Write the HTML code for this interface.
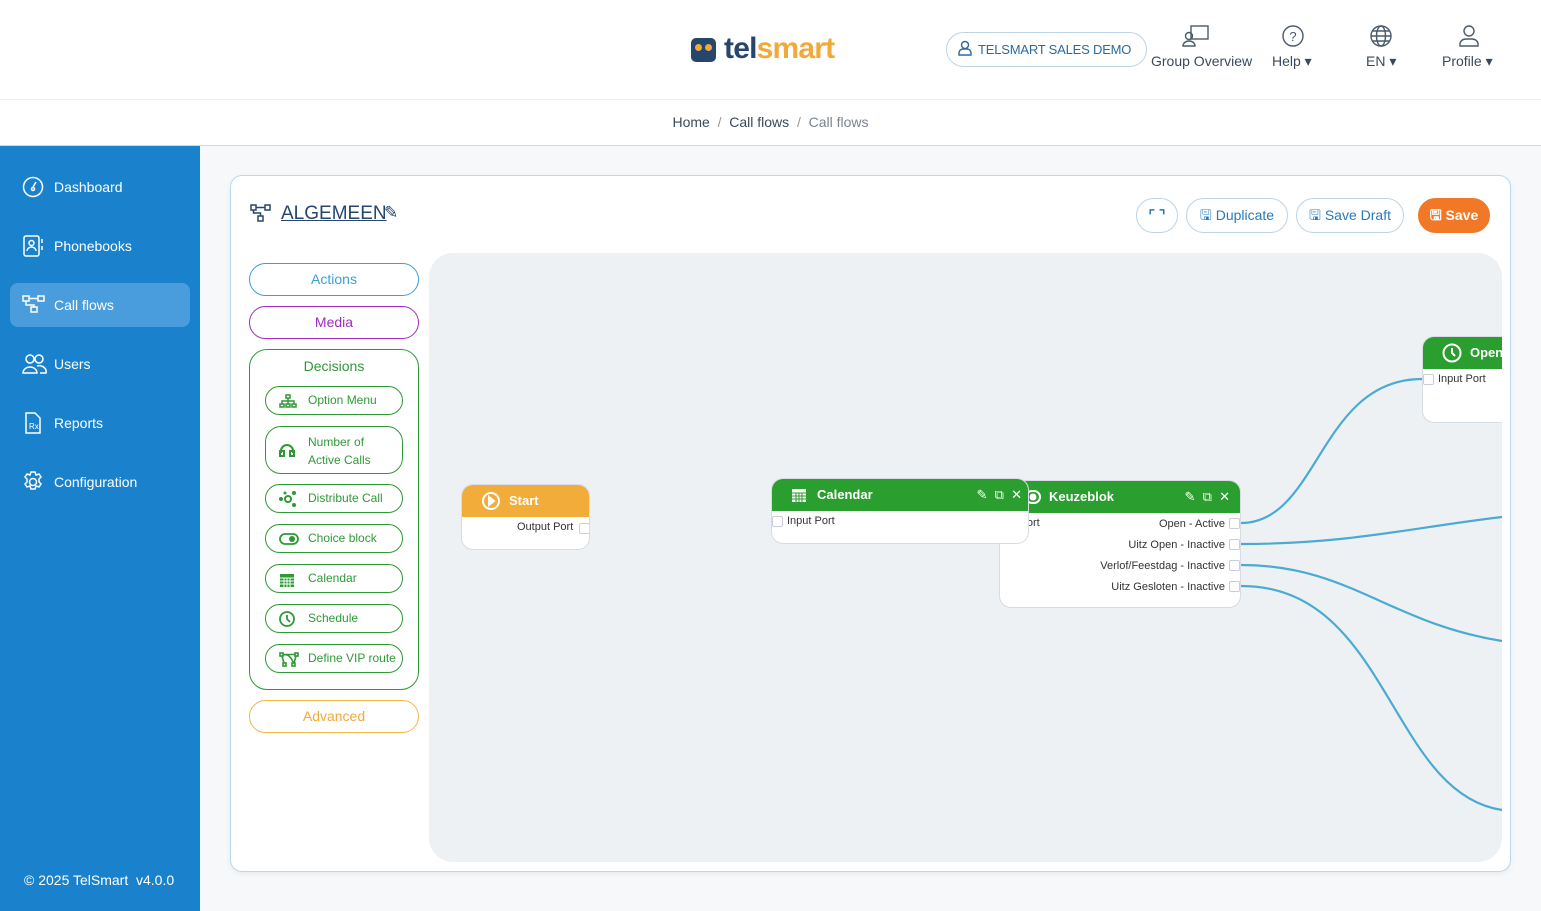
<!DOCTYPE html>
<html><head><meta charset="utf-8"><style>
*{box-sizing:border-box;margin:0;padding:0}
body{width:1541px;height:911px;position:relative;overflow:hidden;background:#f6f8fa;font-family:"Liberation Sans",sans-serif;}
.abs{position:absolute}
.top{left:0;top:0;width:1541px;height:100px;background:#fff;border-bottom:1px solid #eceef0}
.bc{left:0;top:100px;width:1541px;height:46px;background:#fff;border-bottom:1px solid #d5d9dd;font-size:14px;color:#3a4a5a;text-align:center;line-height:44px}
.side{left:0;top:146px;width:200px;height:765px;background:#1a82cc;color:#fff}
.nav{position:absolute;left:10px;width:180px;height:44px;font-size:14px;line-height:44px;padding-left:44px}
.nav svg{position:absolute;left:12px;top:11px}
.card{left:230px;top:175px;width:1281px;height:697px;background:#fff;border:1px solid #bcd8ee;border-radius:12px;box-shadow:0 2px 6px rgba(0,0,0,.06)}
.canvas{left:429px;top:253px;width:1073px;height:609px;background:#eef1f4;border-radius:24px;overflow:hidden}
.pill{position:absolute;border-radius:18px;text-align:center;font-size:14px}
.db{position:absolute;left:265px;width:138px;border:1px solid #2e9a36;border-radius:16px;color:#2e9a36;font-size:12px;padding-left:42px}
.db svg{position:absolute;left:13px}
.btn{position:absolute;top:198px;height:35px;border:1px solid #bcd4e6;border-radius:18px;color:#2a7ab8;font-size:14px;line-height:33px;text-align:center}
.node{position:absolute;background:#fff;border:1px solid #d6dde3;border-radius:12px;overflow:hidden;font-size:11px;color:#333}
.nh{height:32px;color:#fff;font-weight:bold;font-size:13px;line-height:32px;position:relative}
.port{position:absolute;width:11px;height:11px;border:1px solid #ccd;background:#fff;border-radius:2px}
</style></head><body>
<div class="abs top">
 <div class="abs" style="left:691px;top:38px;width:25px;height:24px;background:#26466e;border-radius:5px"></div>
 <div class="abs" style="left:695px;top:44px;width:7px;height:7px;border-radius:50%;background:#f2a93b"></div>
 <div class="abs" style="left:705px;top:44px;width:7px;height:7px;border-radius:50%;background:#f2a93b"></div>
 <div class="abs" style="left:724px;top:32px;font-size:30px;font-weight:bold;letter-spacing:-0.8px"><span style="color:#26466e">tel</span><span style="color:#f2a93b">smart</span></div>
 <div class="abs" style="left:946px;top:32px;width:201px;height:35px;border:1px solid #bcd4e6;border-radius:18px;font-size:13px;color:#2a6a9e;line-height:33px;padding-left:31px;white-space:nowrap;letter-spacing:-0.2px">TELSMART SALES DEMO</div>
 <svg class="abs" style="left:958px;top:40px" width="14" height="16" viewBox="0 0 14 16"><circle cx="7" cy="5" r="3.5" fill="none" stroke="#2a6a9e" stroke-width="1.4"/><path d="M1 15v-2a4 4 0 0 1 4-4h4a4 4 0 0 1 4 4v2z" fill="none" stroke="#2a6a9e" stroke-width="1.4"/></svg>
 <svg class="abs" style="left:1182px;top:24px" width="28" height="24"><rect x="9" y="2" width="17" height="13" fill="none" stroke="#4a5a6a" stroke-width="1.4"/><circle cx="7" cy="12" r="3.5" fill="none" stroke="#4a5a6a" stroke-width="1.4"/><path d="M1 22a6 5 0 0 1 12 0z" fill="none" stroke="#4a5a6a" stroke-width="1.4"/></svg>
 <div class="abs" style="left:1151px;top:53px;font-size:14px;color:#3a4a5a">Group Overview</div>
 <svg class="abs" style="left:1282px;top:25px" width="22" height="22"><circle cx="11" cy="11" r="10" fill="none" stroke="#4a5a6a" stroke-width="1.4"/><text x="11" y="16" font-size="13" text-anchor="middle" fill="#4a5a6a" font-family="Liberation Sans">?</text></svg>
 <div class="abs" style="left:1272px;top:53px;font-size:14px;color:#3a4a5a">Help ▾</div>
 <svg class="abs" style="left:1370px;top:25px" width="22" height="22" fill="none" stroke="#4a5a6a" stroke-width="1.4"><circle cx="11" cy="11" r="10"/><ellipse cx="11" cy="11" rx="4.5" ry="10"/><path d="M1 11h20M3 6h16M3 16h16"/></svg>
 <div class="abs" style="left:1366px;top:53px;font-size:14px;color:#3a4a5a">EN ▾</div>
 <svg class="abs" style="left:1458px;top:24px" width="22" height="24" fill="none" stroke="#4a5a6a" stroke-width="1.4"><circle cx="11" cy="7" r="5"/><path d="M2 22v-2a6 5 0 0 1 6-5h6a6 5 0 0 1 6 5v2z"/></svg>
 <div class="abs" style="left:1442px;top:53px;font-size:14px;color:#3a4a5a">Profile ▾</div>
</div>
<div class="abs bc">Home &nbsp;<span style="color:#999">/</span>&nbsp; Call flows &nbsp;<span style="color:#999">/</span>&nbsp; <span style="color:#7a8590">Call flows</span></div>
<div class="abs side">
 <div class="nav" style="top:19px"><svg width="22" height="22" fill="none" stroke="#fff" stroke-width="1.5"><circle cx="11" cy="11" r="9.5"/><path d="M11 11l3-5"/><circle cx="11" cy="13" r="1.5"/></svg>Dashboard</div>
 <div class="nav" style="top:78px"><svg width="22" height="22" fill="none" stroke="#fff" stroke-width="1.5"><rect x="2" y="1" width="15" height="20" rx="2"/><circle cx="9.5" cy="8" r="2.5"/><path d="M5 16a4.5 4 0 0 1 9 0M20 4v4M20 11v4"/></svg>Phonebooks</div>
 <div class="nav" style="top:137px;background:#4a9ddc;border-radius:8px"><svg width="24" height="22" fill="none" stroke="#fff" stroke-width="1.5"><rect x="1" y="2" width="6" height="5"/><rect x="16" y="2" width="6" height="5"/><rect x="9" y="13" width="6" height="5"/><path d="M7 4.5h9M4 7v4h8v2"/></svg>Call flows</div>
 <div class="nav" style="top:196px"><svg width="26" height="22" fill="none" stroke="#fff" stroke-width="1.5"><circle cx="8" cy="6" r="4"/><circle cx="17" cy="6" r="4"/><path d="M1 20a7 6 0 0 1 14 0zM15 13a7 6 0 0 1 9 7h-6"/></svg>Users</div>
 <div class="nav" style="top:255px"><svg width="22" height="22" fill="none" stroke="#fff" stroke-width="1.5"><path d="M4 1h9l5 5v15H4z"/><text x="7" y="17" font-size="8" fill="#fff" stroke="none" font-family="Liberation Sans">Rx</text></svg>Reports</div>
 <div class="nav" style="top:314px"><svg width="22" height="22" fill="none" stroke="#fff" stroke-width="1.5"><circle cx="11" cy="11" r="3.5"/><path d="M9 1h4l1 3 3-1 2 3-2 2 0 3 2 2-2 3-3-1-1 3H9l-1-3-3 1-2-3 2-2v-3L3 6l2-3 3 1z"/></svg>Configuration</div>
 <div class="abs" style="left:24px;top:726px;font-size:14px">© 2025 TelSmart &nbsp;v4.0.0</div>
</div>
<div class="abs card"></div>
<svg class="abs" style="left:250px;top:204px" width="22" height="18" fill="none" stroke="#26466e" stroke-width="1.5"><rect x="1" y="1" width="5" height="5"/><rect x="15" y="1" width="5" height="5"/><rect x="8" y="12" width="5" height="5"/><path d="M6 3.5h9M3.5 6v3h7v3"/></svg>
<div class="abs" style="left:281px;top:203px;font-size:19px;color:#26466e;text-decoration:underline">ALGEMEEN</div>
<div class="abs" style="left:384px;top:203px;font-size:17px;color:#26466e">✎</div>
<div class="btn" style="left:1136px;width:42px;font-weight:bold">⌜ ⌝</div>
<div class="btn" style="left:1186px;width:102px">🖫 Duplicate</div>
<div class="btn" style="left:1296px;width:108px">🖫 Save Draft</div>
<div class="btn" style="left:1418px;width:72px;background:#f07826;border-color:#f07826;color:#fff;font-weight:bold">🖫 Save</div>
<div class="pill" style="left:249px;top:263px;width:170px;height:33px;border:1px solid #3aa0d6;color:#3aa0d6;line-height:31px">Actions</div>
<div class="pill" style="left:249px;top:306px;width:170px;height:33px;border:1px solid #a02cc0;color:#a02cc0;line-height:31px">Media</div>
<div class="pill" style="left:249px;top:349px;width:170px;height:341px;border:1px solid #2e9a36;color:#2e9a36;line-height:32px">Decisions</div>
<div class="db" style="top:386px;height:29px;line-height:27px"><svg style="top:7px" width="18" height="14" fill="none" stroke="#2e9a36" stroke-width="1.5"><rect x="7" y="1" width="4" height="3"/><rect x="1" y="10" width="4" height="3"/><rect x="7" y="10" width="4" height="3"/><rect x="13" y="10" width="4" height="3"/><path d="M9 4v6M3 10V7h12v3"/></svg>Option Menu</div>
<div class="db" style="top:426px;height:48px;line-height:18px;padding-top:6px"><svg style="top:16px" width="16" height="16" fill="none" stroke="#2e9a36" stroke-width="2"><path d="M2 10V8a6 6 0 0 1 12 0v2"/><rect x="1" y="8" width="4" height="5"/><rect x="11" y="8" width="4" height="5"/></svg>Number of<br>Active Calls</div>
<div class="db" style="top:484px;height:29px;line-height:27px"><svg style="top:6px" width="18" height="16" fill="#2e9a36"><circle cx="9" cy="8" r="3" fill="none" stroke="#2e9a36" stroke-width="2"/><circle cx="2" cy="8" r="2"/><circle cx="15" cy="2" r="2"/><circle cx="15" cy="14" r="2"/><circle cx="6" cy="2" r="1.5"/></svg>Distribute Call</div>
<div class="db" style="top:524px;height:29px;line-height:27px"><svg style="top:8px" width="20" height="12"><rect x="1" y="1" width="18" height="10" rx="5" fill="none" stroke="#2e9a36" stroke-width="1.8"/><circle cx="13" cy="6" r="3" fill="#2e9a36"/></svg>Choice block</div>
<div class="db" style="top:564px;height:29px;line-height:27px"><svg style="top:7px" width="16" height="16"><rect x="1" y="2" width="14" height="13" fill="#2e9a36"/><path d="M1 6h14M5 6v9M8 6v9M11 6v9M1 9h14M1 12h14" stroke="#fff" stroke-width="1"/></svg>Calendar</div>
<div class="db" style="top:604px;height:29px;line-height:27px"><svg style="top:6px" width="16" height="16" fill="none" stroke="#2e9a36" stroke-width="1.8"><circle cx="8" cy="8" r="7"/><path d="M8 4v4l3 3"/></svg>Schedule</div>
<div class="db" style="top:644px;height:29px;line-height:27px"><svg style="top:7px" width="20" height="15" fill="none" stroke="#2e9a36" stroke-width="1.6"><rect x="1" y="1" width="3" height="3"/><rect x="16" y="1" width="3" height="3"/><rect x="4" y="11" width="3" height="3"/><rect x="13" y="11" width="3" height="3"/><path d="M4 2.5h12M3 4l2 7M17 4l-2 7M5 3c5-2 9 6 9 8"/></svg>Define VIP route</div>
<div class="pill" style="left:249px;top:700px;width:170px;height:33px;border:1px solid #f2b84a;color:#f2a93b;line-height:31px">Advanced</div>
<div class="abs canvas">
 <svg class="abs" style="left:0;top:0" width="1073" height="609" fill="none" stroke="#4aaad2" stroke-width="2.2">
  <path d="M812 270C890 270 890 126 993 126"/>
  <path d="M812 291C920 291 980 275 1073 264"/>
  <path d="M812 312C920 312 960 370 1073 388"/>
  <path d="M812 333C960 333 960 540 1073 557"/>
 </svg>
 <div class="node" style="left:32px;top:231px;width:129px;height:66px">
  <div class="nh" style="background:#f2ac3a;padding-left:47px">Start</div>
  <svg class="abs" style="left:20px;top:7px" width="18" height="18" fill="none" stroke="#fff" stroke-width="2"><circle cx="9" cy="9" r="8"/><path d="M7 5l5 4-5 4z" fill="#fff"/></svg>
  <div class="abs" style="left:55px;top:36px">Output Port</div><div class="port" style="left:117px;top:38px"></div>
 </div>
 <div class="node" style="left:570px;top:227px;width:242px;height:128px">
  <div class="nh" style="background:#2a9e2e;padding-left:49px">Keuzeblok</div>
  <svg class="abs" style="left:25px;top:9px" width="16" height="14" fill="none" stroke="#fff" stroke-width="2"><rect x="1" y="1" width="14" height="12" rx="6"/><circle cx="8" cy="7" r="2.5" fill="#fff"/></svg>
  <div class="abs" style="left:-8px;top:36px">Input Port</div>
  <div class="abs" style="right:15px;top:33px;text-align:right;line-height:21px">Open - Active<br>Uitz Open - Inactive<br>Verlof/Feestdag - Inactive<br>Uitz Gesloten - Inactive</div>
  <div class="port" style="right:0;top:37px"></div><div class="port" style="right:0;top:58px"></div><div class="port" style="right:0;top:79px"></div><div class="port" style="right:0;top:100px"></div>
  <div class="abs" style="right:10px;top:8px;color:#fff;font-size:13px">✎ &nbsp;⧉ &nbsp;✕</div>
 </div>
 <div class="node" style="left:342px;top:225px;width:258px;height:66px">
  <div class="nh" style="background:#2a9e2e;padding-left:45px">Calendar</div>
  <svg class="abs" style="left:19px;top:8px" width="16" height="16"><rect x="1" y="2" width="14" height="13" fill="#fff"/><path d="M1 6h14M5 6v9M8 6v9M11 6v9M1 9h14M1 12h14" stroke="#2a9e2e" stroke-width="1"/></svg>
  <div class="abs" style="right:6px;top:8px;color:#fff;font-size:13px">✎ &nbsp;⧉ &nbsp;✕</div>
  <div class="port" style="left:0;top:37px"></div><div class="abs" style="left:15px;top:36px">Input Port</div>
 </div>
 <div class="node" style="left:993px;top:83px;width:100px;height:87px;border-radius:12px 0 0 12px">
  <div class="nh" style="background:#2a9e2e;padding-left:47px">Open</div>
  <svg class="abs" style="left:19px;top:6px" width="20" height="20" fill="none" stroke="#fff" stroke-width="2"><circle cx="10" cy="10" r="8.5"/><path d="M10 5v5l3 3"/></svg>
  <div class="port" style="left:0;top:37px"></div><div class="abs" style="left:15px;top:36px">Input Port</div>
 </div>
</div>
</body></html>
